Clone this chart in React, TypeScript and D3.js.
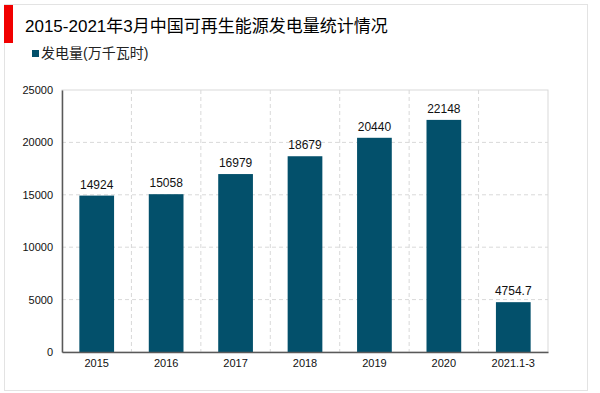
import React, { useEffect, useRef } from 'react';
import * as d3 from 'd3';

const title = '2015-2021年3月中国可再生能源发电量统计情况';
const seriesName = '发电量(万千瓦时)';
const categories = ['2015', '2016', '2017', '2018', '2019', '2020', '2021.1-3'];
const values = [14924, 15058, 16979, 18679, 20440, 22148, 4754.7];
const yTicks = [0, 5000, 10000, 15000, 20000, 25000];

const W = 600;
const H = 393;
const BAR = '#03506b';
const FONT = '"Liberation Sans", Arial, "Noto Sans CJK SC", sans-serif';

const App: React.FC = () => {
  const svgRef = useRef<SVGSVGElement>(null);

  useEffect(() => {
    document.body.style.margin = '0';
    if (!svgRef.current) return;
    const svg = d3.select(svgRef.current);
    svg.selectAll('*').remove();

    svg.append('rect').attr('width', W).attr('height', H).attr('fill', '#fff');

    // outer frame
    svg.append('rect')
      .attr('x', 4.5).attr('y', 4.5)
      .attr('width', 583).attr('height', 386)
      .attr('fill', 'none')
      .attr('stroke', '#e3e3e3')
      .attr('stroke-width', 1);

    // red marker
    svg.append('rect')
      .attr('x', 4).attr('y', 5)
      .attr('width', 9).attr('height', 38)
      .attr('fill', '#f10000');

    svg.append('text')
      .attr('x', 25).attr('y', 32)
      .attr('font-family', FONT)
      .attr('font-size', 17)
      .attr('fill', '#000')
      .text(title);

    // legend
    svg.append('rect')
      .attr('x', 32).attr('y', 50)
      .attr('width', 7).attr('height', 7)
      .attr('fill', BAR);
    svg.append('text')
      .attr('x', 41).attr('y', 53.5)
      .attr('dy', '0.35em')
      .attr('font-family', FONT)
      .attr('font-size', 14)
      .attr('fill', '#222')
      .text(seriesName);

    const margin = { top: 90, right: 52, bottom: 41, left: 62 };
    const width = W - margin.left - margin.right;
    const height = H - margin.top - margin.bottom;

    const g = svg.append('g').attr('transform', `translate(${margin.left},${margin.top})`);

    const x = d3.scaleBand().domain(categories).range([0, width]).paddingInner(0.5).paddingOuter(0.25);
    const y = d3.scaleLinear().domain([0, 25000]).range([height, 0]);

    // plot border
    g.append('rect')
      .attr('x', 0).attr('y', 0)
      .attr('width', width).attr('height', height)
      .attr('fill', 'none')
      .attr('stroke', '#d9d9d9');

    // horizontal grid
    g.selectAll('.gy')
      .data(yTicks.filter(t => t > 0 && t < 25000))
      .enter().append('line')
      .attr('x1', 0).attr('x2', width)
      .attr('y1', d => y(d)).attr('y2', d => y(d))
      .attr('stroke', '#d9d9d9')
      .attr('stroke-dasharray', '4,3');

    // vertical grid between categories
    const step = x.step();
    g.selectAll('.gx')
      .data(d3.range(1, categories.length))
      .enter().append('line')
      .attr('x1', d => (x(categories[0]) as number) - step * 0.25 + d * step)
      .attr('x2', d => (x(categories[0]) as number) - step * 0.25 + d * step)
      .attr('y1', 0).attr('y2', height)
      .attr('stroke', '#d9d9d9')
      .attr('stroke-dasharray', '4,3');

    // bars
    g.selectAll('.bar')
      .data(values)
      .enter().append('rect')
      .attr('x', (d, i) => x(categories[i]) as number)
      .attr('y', d => y(d))
      .attr('width', x.bandwidth())
      .attr('height', d => height - y(d))
      .attr('fill', BAR);

    // value labels
    g.selectAll('.val')
      .data(values)
      .enter().append('text')
      .attr('x', (d, i) => (x(categories[i]) as number) + x.bandwidth() / 2)
      .attr('y', d => y(d) - 7)
      .attr('text-anchor', 'middle')
      .attr('font-family', FONT)
      .attr('font-size', 12)
      .attr('fill', '#111')
      .text(d => String(d));

    // axes
    const yAxis = g.append('g')
      .call(d3.axisLeft(y).tickValues(yTicks).tickSize(0).tickPadding(9).tickFormat(d3.format('d')));
    yAxis.select('.domain').attr('stroke', '#595959').attr('stroke-width', 1.5);
    yAxis.selectAll('text').attr('font-family', FONT).attr('font-size', 11).attr('fill', '#111');

    const xAxis = g.append('g')
      .attr('transform', `translate(0,${height})`)
      .call(d3.axisBottom(x).tickSize(0).tickPadding(7));
    xAxis.select('.domain').attr('stroke', '#595959').attr('stroke-width', 1.5);
    xAxis.selectAll('text').attr('font-family', FONT).attr('font-size', 11).attr('fill', '#111');
  }, []);

  return <svg ref={svgRef} width={W} height={H} style={{ display: 'block' }} />;
};

export default App;
